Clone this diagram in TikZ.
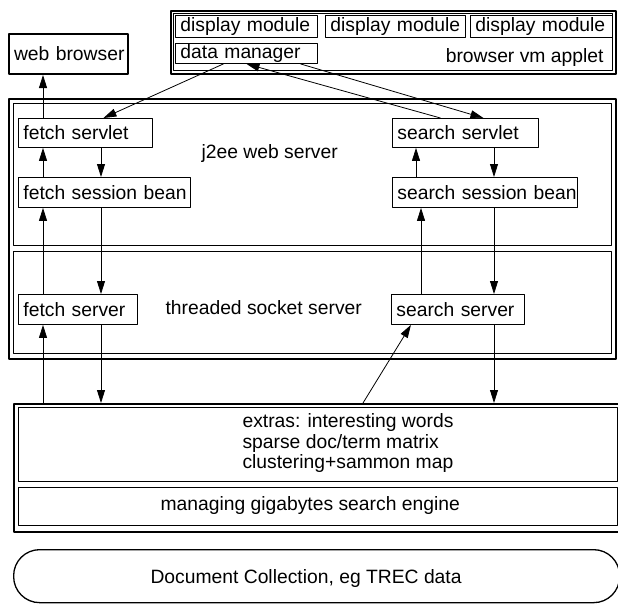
\documentclass[tikz,border=0pt]{standalone}
\usepackage{fontspec}
\setmainfont{Liberation Sans}
\usetikzlibrary{arrows.meta}
\begin{document}
\begin{tikzpicture}[x=1pt, y=-1pt, font=\fontsize{19.3}{20.5}\selectfont, line join=round, >={Triangle[length=13pt,width=8pt]},
		box/.style={draw, line width=.9pt, anchor=north west, inner xsep=5pt, inner ysep=0pt, execute at begin node=\hbox\bgroup, execute at end node=\egroup},
		frame/.style={draw, line width=2pt, anchor=north west, inner sep=0pt},
		pane/.style={draw, line width=.9pt, anchor=north west, inner sep=0pt},
		link/.style={->, line width=.8pt}]
		\useasboundingbox (0,0) rectangle (618,603);
		\coordinate (fu) at (43,0); \coordinate (fd) at (101,0);
		\coordinate (su) at (416,0); \coordinate (sv) at (421,0); \coordinate (sd) at (494,0); \coordinate (sx) at (363,0);
		\node[frame, minimum width=445pt, minimum height=63pt] (applet) at (170,10) {};
		\node[pane, minimum width=439pt, minimum height=57pt] (appletin) at (173,13) {};
		\node[frame, minimum width=607pt, minimum height=260pt] (j2ee) at (8,98) {};
		\node[pane, minimum width=598pt, minimum height=142pt] (web) at (13,103) {};
		\node[pane, minimum width=598pt, minimum height=102pt] (sock) at (13,251) {};
		\node[frame, minimum width=606pt, minimum height=128pt] (engine) at (13,403) {};
		\node[pane, minimum width=599pt, minimum height=74pt] (extras) at (18,407) {};
		\node[pane, minimum width=599pt, minimum height=38pt] (mg) at (18,487) {};
		\node[draw, line width=1.3pt, rounded corners=26pt, anchor=north west, minimum width=606pt, minimum height=53pt] (docs) at (13,549) {};
		\node[box, line width=2pt, text width=109pt, minimum height=40pt] (browser) at (8,33) {web browser};
		\node[box, text width=132pt, minimum height=22pt] (dispa) at (175,15) {display module};
		\node[box, text width=130pt, minimum height=22pt] (dispb) at (325,15) {display module};
		\node[box, text width=132pt, minimum height=22pt] (dispc) at (470,15) {display module};
		\node[box, text width=132pt, minimum height=20pt] (dm) at (175,43) {data manager};
		\node[box, text width=124pt, minimum height=29pt] (fservlet) at (18,118) {fetch servlet};
		\node[box, text width=162pt, minimum height=30pt] (fbean) at (18,177) {fetch session bean};
		\node[box, text width=136pt, minimum height=29pt] (sservlet) at (392,118) {search servlet};
		\node[box, text width=175pt, minimum height=30pt] (sbean) at (392,177) {search session bean};
		\node[box, text width=109pt, minimum height=30pt] (fserver) at (18,294) {fetch server};
		\node[box, text width=123pt, minimum height=30pt] (sserver) at (391,294) {search server};
		\node[anchor=east] (appletl) at (607,58) {browser vm applet};
		\node[anchor=west] (webl) at (198,154) {j2ee web server};
		\node[anchor=west] (sockl) at (162,308) {threaded socket server};
		\node[anchor=west, align=left] (extrasl) at (239,443) {extras: interesting words\\sparse doc/term matrix\\clustering+sammon map};
		\node[anchor=west] (mgl) at (157,505) {managing gigabytes search engine};
		\node[anchor=west] (docsl) at (147,578) {Document Collection, eg TREC data};
		\draw[link] (fservlet.north -| fu) -- (browser.south -| fu);
		\draw[link] (fservlet.south -| fd) -- (fbean.north -| fd);
		\draw[link] (fbean.north -| fu) -- (fservlet.south -| fu);
		\draw[link] (fbean.south -| fd) -- (fserver.north -| fd);
		\draw[link] (fserver.north -| fu) -- (fbean.south -| fu);
		\draw[link] (fserver.south -| fd) -- (engine.north -| fd);
		\draw[link] (engine.north -| fu) -- (fserver.south -| fu);
		\draw[link] (sservlet.south -| sd) -- (sbean.north -| sd);
		\draw[link] (sbean.north -| su) -- (sservlet.south -| su);
		\draw[link] (sbean.south -| sd) -- (sserver.north -| sd);
		\draw[link] (sserver.north -| sv) -- (sbean.south -| sv);
		\draw[link] (sserver.south -| sd) -- (engine.north -| sd);
		\draw[link] (engine.north -| sx) -- ([xshift=-47pt]sserver.south);
		\draw[link] ([xshift=-23pt]dm.south) -- ([xshift=18pt]fservlet.north);
		\draw[link] ([xshift=-25pt]sservlet.north) -- (dm.south);
		\draw[link] ([xshift=54pt]dm.south) -- ([xshift=18pt]sservlet.north);
\end{tikzpicture}
\end{document}
